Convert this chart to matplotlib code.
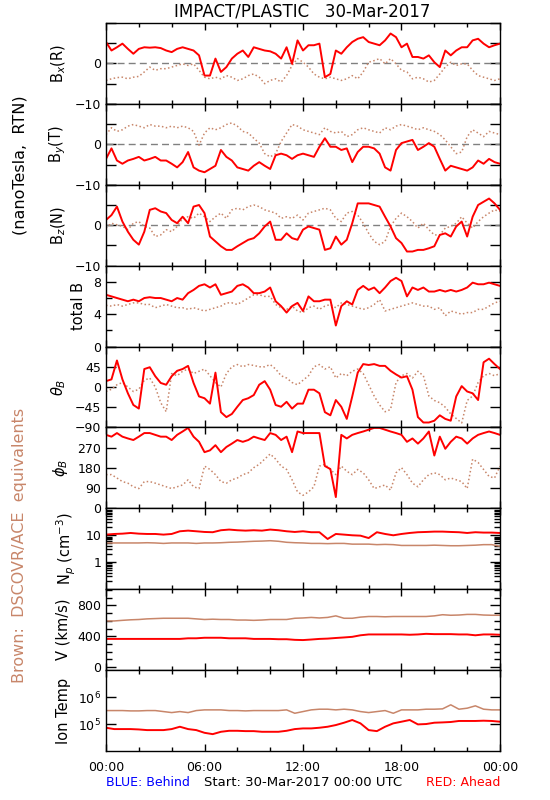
# STEREO IMPACT/PLASTIC daily summary plot, 30-Mar-2017
import numpy as np
import matplotlib
matplotlib.use("Agg")
import matplotlib.pyplot as plt
from matplotlib.ticker import MultipleLocator, FixedLocator, NullFormatter, LogLocator


# Time grids (hours since 00:00 UTC)
t_mag = np.linspace(0, 24, 73)     # 20 min steps for magnetic field panels
t_pla = np.linspace(0, 24, 49)     # 30 min steps for plasma panels

# Bx (R) - nT
bx_ahead = [5.3, 3.2, 4.0, 4.9, 3.6, 2.4, 3.6, 4.0, 3.9, 4.0, 3.8, 3.2,
            2.8, 3.6, 4.0, 3.6, 3.2, 2.0, -3.0, -3.0, 1.2, -2.1, -0.9, 1.2,
            2.4, 3.2, 1.6, 4.0, 3.6, 3.2, 3.0, 2.4, 1.2, 4.0, -0.1, 5.7,
            3.2, 4.5, 4.5, 4.9, -3.4, -2.6, 3.2, 2.4, 4.0, 5.3, 6.1, 6.5,
            5.3, 4.9, 4.5, 5.7, 7.4, 6.5, 4.0, 4.9, 1.6, 1.6, 1.2, 2.0,
            0.3, -0.9, 3.2, 2.0, 3.2, 4.0, 4.0, 5.7, 6.1, 4.9, 4.0, 4.5, 4.9]
bx_ace = [-4.2, -3.8, -3.5, -3.4, -3.8, -3.4, -3.2, -2.1, -0.9, -1.7, -1.3, -1.3,
          -0.9, -0.5, -0.1, -0.5, -0.1, -1.7, -3.4, -3.8, -3.4, -3.8, -3.0, -3.4,
          -4.2, -3.8, -3.0, -2.6, -3.4, -5.0, -4.2, -3.8, -4.6, -3.0, -0.5, 1.2,
          0.3, -0.9, -2.6, -3.4, -3.8, -3.4, -3.8, -4.2, -3.8, -3.0, -3.8, -2.1,
          0.3, 0.7, 1.2, -0.1, 1.2, -0.1, -1.7, -2.1, -3.8, -3.4, -3.8, -4.6,
          -4.2, -2.6, -0.9, 0.3, -0.5, -0.1, -0.1, -1.7, -3.0, -3.4, -3.8, -4.2, -3.8]

# By (T) - nT
by_ahead = [-3.6, -1.0, -4.0, -4.8, -4.0, -3.6, -3.1, -4.0, -3.6, -3.1, -4.0, -4.0,
            -4.8, -5.7, -4.4, -1.9, -5.7, -6.5, -6.9, -6.1, -5.3, -1.4, -3.1, -4.0,
            -5.7, -6.1, -6.5, -5.3, -4.4, -5.3, -6.1, -2.7, -2.3, -2.7, -3.6, -2.7,
            -2.3, -2.7, -3.1, -0.6, 1.5, -0.6, -0.6, -1.4, -1.0, -4.4, -1.9, -0.6,
            -0.6, -1.0, -2.3, -5.7, -6.5, -1.4, 0.3, 0.7, 1.1, -1.4, -0.6, 0.3,
            -0.6, -3.6, -6.5, -5.3, -5.7, -6.1, -6.5, -5.7, -4.0, -4.8, -3.6, -4.4, -4.8]
by_ace = [2.4, 4.1, 3.2, 3.6, 4.5, 4.9, 4.5, 4.1, 4.9, 4.5, 4.5, 4.1,
          4.5, 4.1, 4.5, 4.1, 3.2, -0.2, 2.8, 4.1, 3.6, 4.1, 4.9, 5.3,
          4.5, 3.2, 2.8, 1.5, 0.3, -2.3, -3.1, -2.3, 0.7, 2.8, 4.9, 4.5,
          3.6, 3.2, 2.8, 2.4, 4.1, 3.2, 2.8, 3.2, 1.9, 2.4, 3.6, 4.1,
          3.6, 3.2, 2.8, 4.1, 3.6, 4.5, 4.9, 4.5, 4.1, 3.6, 4.1, 3.6,
          3.2, 2.4, 1.1, -0.6, -2.3, -1.9, 1.9, 3.6, 2.8, 1.9, 3.2, 2.8, 2.4]

# Bz (N) - nT
bz_ahead = [1.3, 2.5, 4.6, 0.9, -1.6, -3.6, -4.8, -1.6, 3.8, 4.2, 3.4, 3.0,
            1.3, 0.5, 2.1, 0.5, 4.6, 5.0, 3.0, -2.8, -4.0, -5.2, -6.1, -6.1,
            -5.2, -4.4, -3.6, -3.2, -2.0, -0.3, 0.9, -3.6, -3.6, -2.0, -3.2, -3.6,
            -1.1, -0.3, -0.7, -1.1, -6.1, -5.7, -2.8, -4.8, -3.6, 0.5, 5.4, 5.4,
            5.4, 5.0, 4.6, 2.1, -0.3, -3.2, -4.4, -6.5, -6.5, -6.1, -6.1, -5.7,
            -5.2, -2.4, -2.0, -2.8, -0.3, 0.9, -2.8, 2.1, 5.0, 5.8, 6.6, 5.4, 3.8]
bz_ace = [-0.7, 0.5, 0.1, -0.3, -1.1, 0.5, 0.9, -0.3, -0.7, -2.8, -2.4, -1.1,
          -1.6, -0.3, 1.7, 2.1, 1.7, 3.0, 2.1, 0.9, 2.1, 3.0, 1.7, 3.8,
          4.2, 3.8, 4.6, 5.0, 4.6, 3.8, 3.4, 3.0, 1.7, 2.1, 1.7, 2.5,
          1.3, 3.0, 3.4, 3.8, 4.2, 3.8, 1.7, 0.9, 3.0, 3.4, 2.5, 0.5,
          -2.0, -4.0, -4.8, -4.0, -0.3, 1.7, 3.0, 2.1, 0.9, -0.7, 0.5, -1.1,
          -2.4, -2.4, -0.7, -0.3, 0.5, 2.1, 0.5, -0.7, 0.9, 2.1, 3.0, 3.8, 3.4]

# Total B - nT
bt_ahead = [6.4, 6.2, 6.0, 5.8, 5.6, 5.8, 5.6, 6.0, 6.1, 6.0, 6.0, 5.8,
            5.6, 6.0, 5.8, 6.6, 7.0, 7.5, 7.7, 7.3, 7.7, 6.4, 6.6, 6.8,
            7.5, 7.7, 7.3, 6.6, 6.6, 6.8, 7.3, 5.6, 5.0, 4.2, 5.0, 5.4,
            4.4, 6.2, 5.6, 5.6, 5.8, 5.8, 2.6, 5.0, 5.6, 5.2, 7.0, 7.5,
            7.0, 7.3, 6.6, 7.3, 8.1, 8.5, 8.1, 6.2, 7.3, 7.0, 7.3, 6.8,
            6.8, 7.0, 6.8, 7.0, 6.8, 7.0, 7.3, 7.9, 7.7, 7.7, 7.9, 7.7, 7.5]
bt_ace = [5.1, 5.0, 5.2, 5.0, 5.2, 5.4, 5.4, 5.2, 5.2, 4.8, 5.0, 5.2,
          5.0, 4.8, 4.8, 4.6, 4.8, 4.6, 4.4, 4.6, 4.8, 5.0, 5.4, 5.4,
          5.2, 5.6, 6.0, 6.4, 6.4, 6.2, 6.2, 5.2, 4.8, 4.6, 5.0, 4.4,
          4.2, 4.8, 5.0, 4.6, 5.0, 5.2, 4.8, 5.4, 5.2, 5.0, 4.8, 4.6,
          4.8, 5.2, 5.8, 4.4, 4.6, 4.8, 5.0, 5.2, 5.4, 5.2, 5.0, 5.0,
          4.6, 4.8, 3.8, 4.4, 4.2, 4.0, 4.2, 4.2, 4.6, 4.6, 5.0, 5.4, 5.6]

# Theta_B - degrees
th_ahead = [13, 17, 59, 17, -14, -40, -48, 40, 44, 24, 9, 5,
            24, 36, 40, 47, 9, -21, -25, -37, 32, -56, -67, -60,
            -44, -29, -25, -18, 5, 13, -6, -40, -44, -33, -48, -37,
            -37, -6, -6, -14, -56, -63, -29, -44, -71, -21, 32, 51,
            49, 51, 47, 47, 36, 28, 21, 24, -6, -67, -79, -79,
            -75, -63, -71, -75, -21, 2, -10, -14, -29, 55, 63, 51, 40]
th_ace = [-10, -5, 5, 10, 0, -10, -5, 15, 20, 0, -35, -55,
          30, 25, 35, 40, 30, 35, 40, 25, 10, 0, 30, 45,
          50, 45, 50, 48, 45, 45, 50, 40, 25, 20, 10, 5,
          15, 25, 45, 50, 40, 45, 20, 30, 25, 35, 40, 30,
          5, -20, -40, -55, -50, 10, 25, 30, 20, 35, 25, -20,
          -30, -35, -45, -60, -70, -80, -30, -20, 10, 25, 30, 25, 30]

# Phi_B - degrees
ph_ahead = [327, 319, 335, 319, 311, 304, 319, 335, 335, 327, 319, 319,
            304, 327, 342, 358, 319, 296, 250, 258, 281, 250, 273, 288,
            304, 296, 304, 319, 311, 304, 335, 327, 304, 319, 250, 342,
            335, 335, 335, 335, 188, 175, 50, 327, 311, 327, 335, 342,
            350, 358, 358, 350, 342, 335, 327, 296, 311, 288, 311, 342,
            235, 319, 265, 296, 319, 311, 288, 311, 327, 335, 342, 335, 327]
ph_ace = [150, 150, 135, 119, 112, 96, 88, 119, 119, 112, 104, 96,
          88, 96, 104, 127, 96, 88, 188, 173, 150, 119, 112, 127,
          135, 150, 158, 181, 196, 219, 242, 219, 188, 173, 127, 73,
          58, 73, 96, 188, 196, 173, 150, 188, 165, 150, 173, 158,
          127, 88, 96, 104, 81, 158, 181, 150, 112, 96, 127, 150,
          158, 150, 127, 135, 127, 119, 88, 219, 204, 173, 142, 135, 188]

# Proton density - cm^-3
np_ahead = [10.6, 11.2, 11.5, 12.2, 11.5, 11.2, 11.2, 10.6, 11.2,
            14.1, 14.9, 14.1, 13.3, 13.0, 15.4, 16.3, 15.4,
            14.9, 15.4, 14.9, 16.3, 15.4, 14.1, 13.3, 14.1,
            13.0, 13.0, 7.3, 11.2, 10.6, 10.0, 9.7, 7.9,
            13.0, 11.2, 10.0, 11.2, 12.2, 13.0, 13.3, 13.7,
            13.7, 13.3, 13.0, 12.2, 13.0, 12.6, 12.6, 12.2]
np_ace = [5.2, 5.2, 5.2, 5.2, 5.2, 5.3, 5.2, 5.0, 5.2,
          5.2, 5.2, 5.0, 5.2, 5.2, 5.3, 5.5, 5.6,
          5.8, 6.0, 6.1, 6.3, 6.0, 5.5, 5.3, 5.2,
          5.0, 5.0, 4.9, 5.0, 5.0, 4.7, 4.7, 4.7,
          4.5, 4.6, 4.5, 4.2, 4.2, 4.2, 4.2, 4.3,
          4.2, 4.1, 4.1, 4.2, 4.3, 4.5, 4.5, 3.9]

# Bulk speed - km/s
v_ahead = [365, 365, 365, 365, 365, 365, 365, 365, 365,
           365, 373, 373, 380, 380, 380, 373, 373,
           373, 365, 365, 365, 361, 361, 353, 350,
           357, 365, 369, 377, 384, 392, 412, 423,
           423, 423, 423, 423, 419, 423, 431, 427,
           427, 427, 423, 423, 412, 423, 423, 419]
v_ace = [598, 598, 606, 613, 617, 625, 629, 633, 633,
         633, 633, 625, 617, 621, 617, 617, 610,
         610, 606, 610, 617, 617, 617, 633, 637,
         644, 637, 644, 664, 633, 633, 648, 656,
         656, 652, 656, 656, 656, 656, 656, 664,
         679, 672, 675, 683, 683, 675, 672, 672]

# Ion temperature - K
tp_ahead = [72900, 65000, 65000, 65000, 63000, 59600, 59600, 59600, 65000,
            79400, 65000, 59600, 47300, 42200, 51600, 56200, 56200,
            54600, 54600, 51600, 51600, 51600, 56200, 65000, 68800,
            68800, 72900, 79400, 91700, 112000, 141000, 106000, 59600,
            54600, 79400, 106000, 122000, 141000, 97000, 100000, 112000,
            115000, 119000, 130000, 130000, 130000, 133000, 130000, 122000]
tp_ace = [316000, 316000, 316000, 307000, 307000, 316000, 316000, 290000, 266000,
          290000, 266000, 316000, 335000, 335000, 335000, 316000, 316000,
          307000, 316000, 316000, 316000, 316000, 335000, 251000, 290000,
          335000, 355000, 355000, 335000, 355000, 335000, 290000, 266000,
          290000, 316000, 251000, 335000, 335000, 335000, 355000, 355000,
          365000, 516000, 355000, 387000, 473000, 355000, 335000, 335000]

x_labels = ["00:00", "06:00", "12:00", "18:00", "00:00"]

RED = "#ff0000"
BROWN = "#c8866a"

fig = plt.figure(figsize=(5.5, 8), dpi=100)
plt.rcParams["font.family"] = "DejaVu Sans"

# Panel geometry in pixels
left, right = 106, 500
top, bottom = 23, 751
n_panels = 9
ph = (bottom - top) / n_panels


def make_axes(i):
    y0 = 1 - (top + ph * (i + 1)) / 800
    ax = fig.add_axes([left / 550, y0, (right - left) / 550, ph / 800])
    ax.set_xlim(0, 24)
    ax.xaxis.set_major_locator(MultipleLocator(6))
    ax.xaxis.set_minor_locator(MultipleLocator(2))
    ax.tick_params(axis="both", which="both", direction="in",
                   top=True, right=True, labelsize=9, width=1)
    ax.tick_params(axis="x", which="major", length=5)
    ax.tick_params(axis="x", which="minor", length=3)
    ax.tick_params(axis="y", which="major", length=7)
    ax.tick_params(axis="y", which="minor", length=4)
    for s in ax.spines.values():
        s.set_linewidth(1)
    if i < n_panels - 1:
        ax.xaxis.set_major_formatter(NullFormatter())
    return ax


def draw_mag(ax, ahead, ace):
    ax.plot(t_mag, ace, color=BROWN, lw=1.1, ls=(0, (1, 1.6)))
    ax.plot(t_mag, ahead, color=RED, lw=1.4)


def draw_pla(ax, ahead, ace):
    ax.plot(t_pla, ace, color=BROWN, lw=1.1)
    ax.plot(t_pla, ahead, color=RED, lw=1.4)


LPAD = 5
LSIZE = 10.5

# Bx, By, Bz panels
comp_panels = [(bx_ahead, bx_ace, "B$_x$(R)"),
               (by_ahead, by_ace, "B$_y$(T)"),
               (bz_ahead, bz_ace, "B$_z$(N)")]
for i, (a, b, lab) in enumerate(comp_panels):
    ax = make_axes(i)
    ax.axhline(0, color="#808080", lw=1, ls=(0, (5, 3)))
    draw_mag(ax, a, b)
    ax.set_ylim(-10, 10)
    ax.set_yticks([-10, -5, 0, 5, 10])
    ax.set_yticklabels(["\u221210", "", "0", "", ""])
    ax.set_ylabel(lab, fontsize=LSIZE, labelpad=LPAD)

# Total B
ax = make_axes(3)
draw_mag(ax, bt_ahead, bt_ace)
ax.set_ylim(0, 10)
ax.set_yticks([0, 4, 8])
ax.yaxis.set_minor_locator(FixedLocator([2, 6]))
ax.set_ylabel("total B", fontsize=LSIZE, labelpad=LPAD)

# Theta
ax = make_axes(4)
draw_mag(ax, th_ahead, th_ace)
ax.set_ylim(-90, 90)
ax.set_yticks([-90, -45, 0, 45, 90])
ax.set_yticklabels(["\u221290", "\u221245", "0", "45", ""])
ax.set_ylabel(r"$\theta_B$", fontsize=LSIZE, labelpad=LPAD)

# Phi
ax = make_axes(5)
draw_mag(ax, ph_ahead, ph_ace)
ax.set_ylim(0, 360)
ax.set_yticks([0, 90, 180, 270, 360])
ax.set_yticklabels(["0", "90", "180", "270", ""])
ax.set_ylabel(r"$\phi_B$", fontsize=LSIZE, labelpad=LPAD)

# Density
ax = make_axes(6)
draw_pla(ax, np_ahead, np_ace)
ax.set_yscale("log")
ax.set_ylim(0.1, 100)
ax.set_yticks([1, 10])
ax.set_yticklabels(["1", "10"])
ax.yaxis.set_minor_locator(LogLocator(base=10, subs=np.arange(2, 10)))
ax.yaxis.set_minor_formatter(NullFormatter())
ax.set_ylabel("N$_p$ (cm$^{-3}$)", fontsize=LSIZE, labelpad=LPAD)

# Speed
ax = make_axes(7)
draw_pla(ax, v_ahead, v_ace)
ax.set_ylim(-40, 1010)
ax.set_yticks([0, 400, 800])
ax.yaxis.set_minor_locator(MultipleLocator(100))
ax.set_ylabel("V (km/s)", fontsize=LSIZE, labelpad=LPAD)

# Ion temperature
ax = make_axes(8)
draw_pla(ax, tp_ahead, tp_ace)
ax.set_yscale("log")
ax.set_ylim(1e4, 1e7)
ax.set_yticks([1e5, 1e6])
ax.set_yticklabels(["10$^5$", "10$^6$"])
ax.yaxis.set_minor_locator(FixedLocator([]))
ax.set_ylabel("Ion Temp", fontsize=LSIZE, labelpad=LPAD)
ax.set_xticks([0, 6, 12, 18, 24])
ax.set_xticklabels(x_labels)
ax.tick_params(axis="x", pad=7)

# Title and side / bottom annotations
fig.text(302 / 550, 1 - 12 / 800, "IMPACT/PLASTIC   30-Mar-2017",
         ha="center", va="center", fontsize=12)
fig.text(20 / 550, 1 - 165 / 800, "(nanoTesla,  RTN)", rotation=90,
         ha="center", va="center", fontsize=11.5)
fig.text(20 / 550, 1 - 545 / 800, "Brown:  DSCOVR/ACE  equivalents", rotation=90,
         ha="center", va="center", fontsize=11.5, color=BROWN)
fig.text(106 / 550, 1 - 783 / 800, "BLUE: Behind", ha="left", va="center",
         fontsize=9, color="#0000ff")
fig.text(303 / 550, 1 - 783 / 800, "Start: 30-Mar-2017 00:00 UTC",
         ha="center", va="center", fontsize=9.5)
fig.text(500 / 550, 1 - 783 / 800, "RED: Ahead", ha="right", va="center",
         fontsize=9, color=RED)

fig.savefig("out.png", dpi=100)
